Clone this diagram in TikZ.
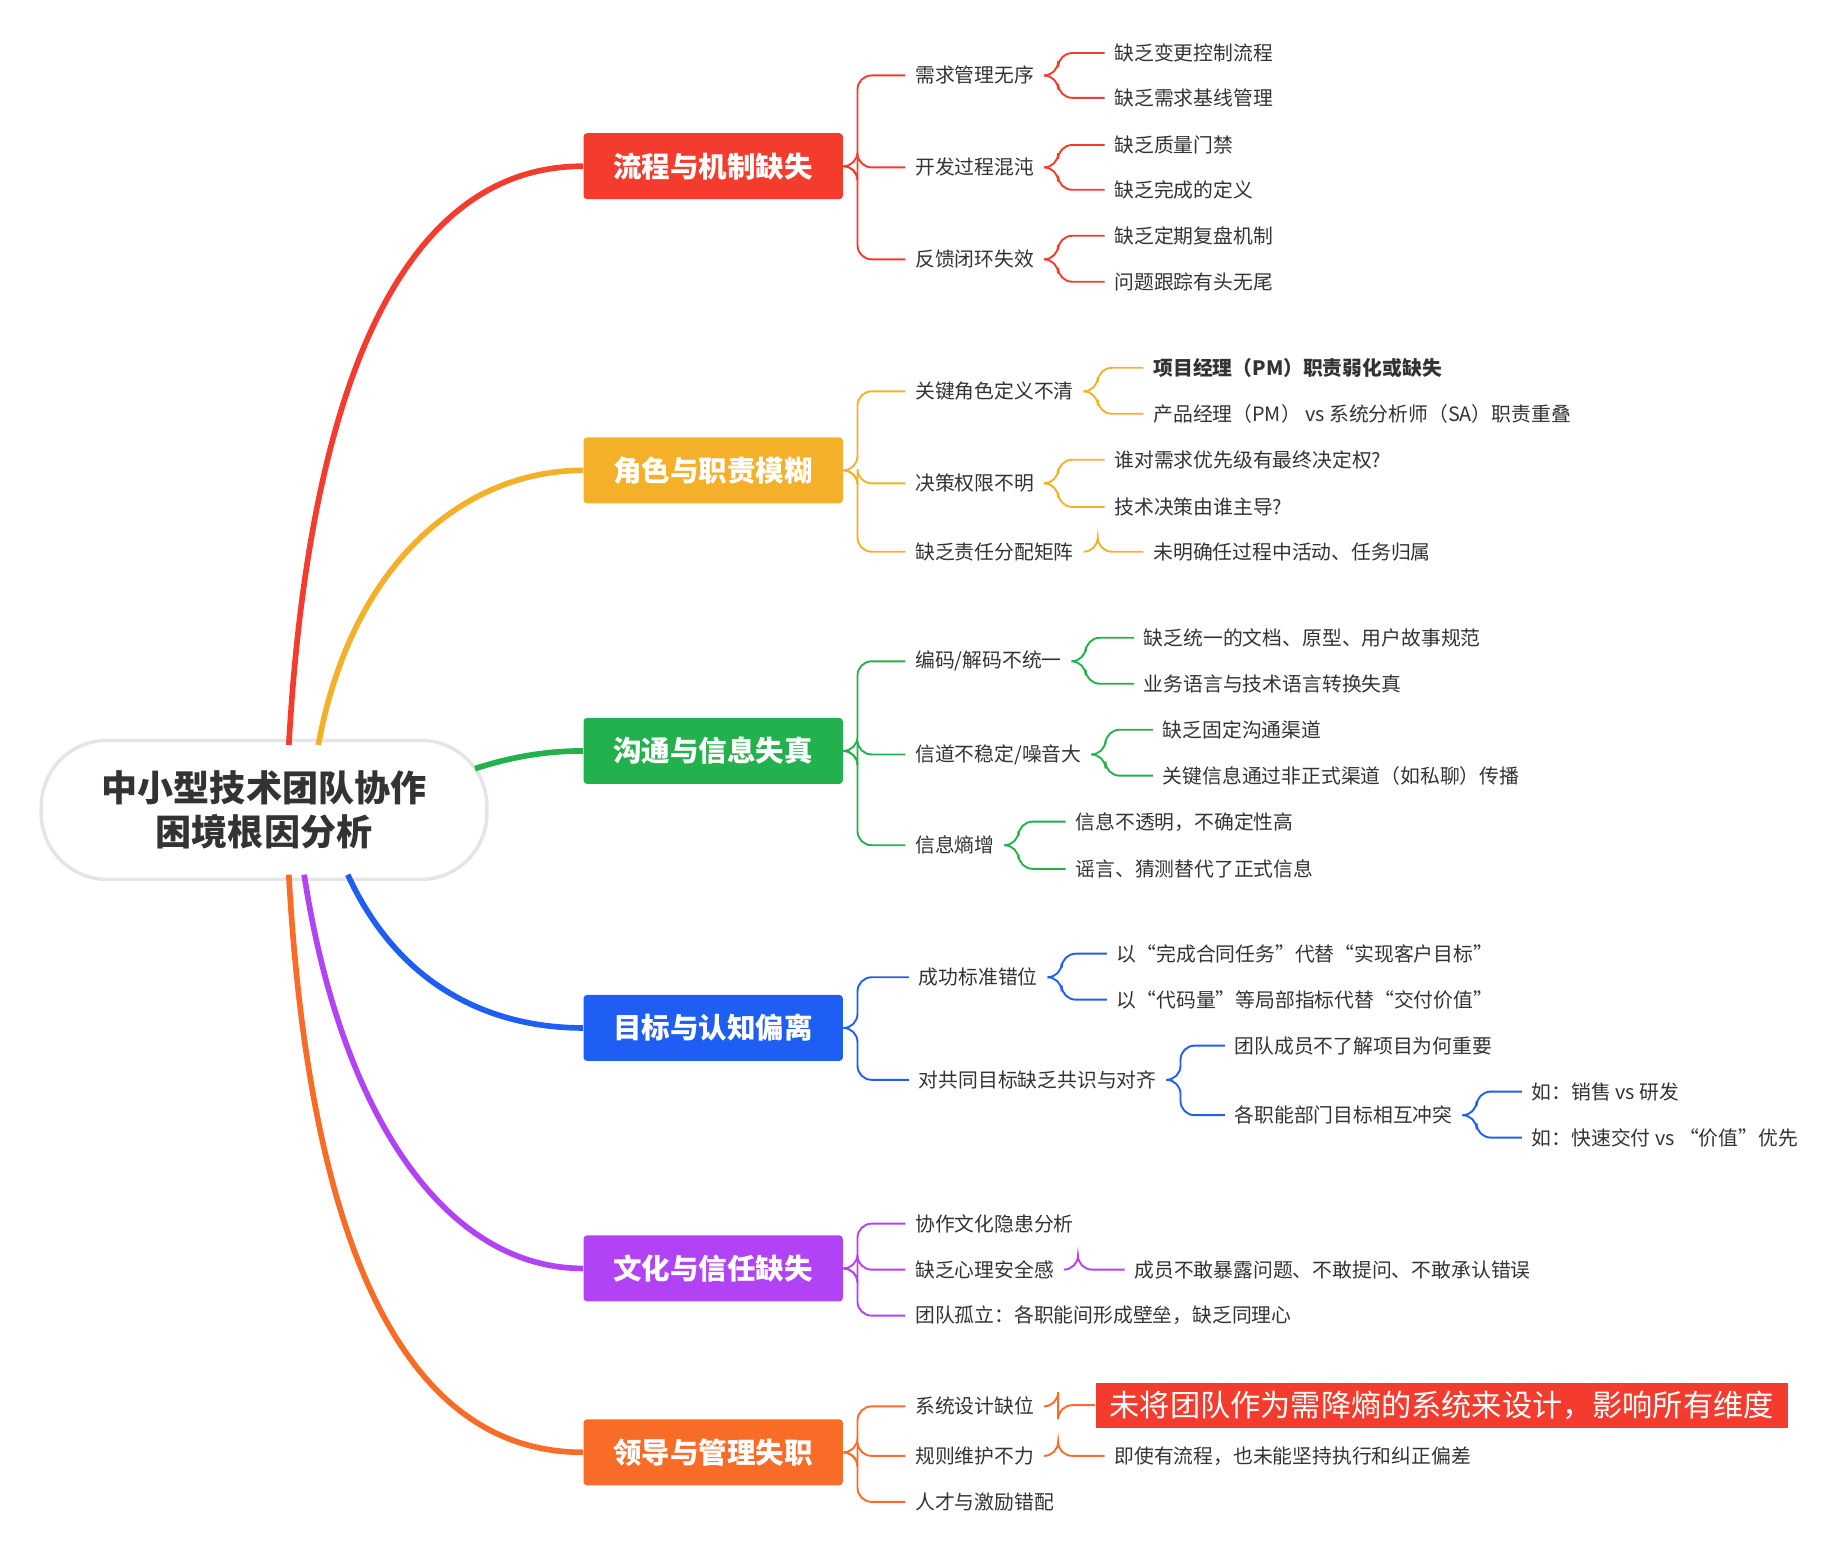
\documentclass[tikz,border=0pt]{standalone}
\usepackage{fontspec}
\setmainfont{Noto Sans CJK SC}
\usetikzlibrary{positioning,calc}
\definecolor{cA}{HTML}{F33B2E}
\definecolor{cB}{HTML}{F5B02A}
\definecolor{cC}{HTML}{22B14C}
\definecolor{cD}{HTML}{1F5EF2}
\definecolor{cE}{HTML}{B143F5}
\definecolor{cF}{HTML}{F96C28}
\definecolor{txt}{HTML}{333333}
\tikzset{
  rootbox/.style={draw=black!10, line width=1.5pt, fill=white, rounded corners=28pt, minimum width=189pt, minimum height=59pt, align=center, font=\fontsize{15.3}{19}\selectfont\bfseries, text=txt},
  mainbox/.style={fill=#1, rounded corners=1.5pt, minimum width=110pt, minimum height=28pt, text=white, font=\fontsize{12.1}{14}\selectfont\bfseries},
  sub/.style={anchor=west, inner sep=4pt, text=txt, font=\fontsize{8.4}{10}\selectfont},
  trunk/.style={line width=2.4pt, #1},
  twig/.style={line width=0.8pt, rounded corners=6pt, #1}
}
% bracket from a node to a child
\newcommand{\br}[3]{\draw[twig=#3] (#1.east) -- ++(12,0) |- (#2.west);}
\begin{document}
\begin{tikzpicture}[x=0.5pt, y=-0.5pt]
  \useasboundingbox (0,0) rectangle (1560,1310);

  \node[rootbox] (root) at (224,687) {中小型技术团队协作\\困境根因分析};

  \node[mainbox=cA] (m1) at (605,141) {流程与机制缺失};
  \node[mainbox=cB] (m2) at (605,399) {角色与职责模糊};
  \node[mainbox=cC] (m3) at (605,637) {沟通与信息失真};
  \node[mainbox=cD] (m4) at (605,872) {目标与认知偏离};
  \node[mainbox=cE] (m5) at (605,1076) {文化与信任缺失};
  \node[mainbox=cF] (m6) at (605,1232) {领导与管理失职};

  \draw[trunk=cA] (245,632) .. controls (262,330) and (340,141) .. (m1.west);
  \draw[trunk=cB] (270,632) .. controls (300,470) and (400,399) .. (m2.west);
  \draw[trunk=cC] (403,652) .. controls (440,640) and (470,637) .. (m3.west);
  \draw[trunk=cD] (295,742) .. controls (340,840) and (420,872) .. (m4.west);
  \draw[trunk=cE] (258,742) .. controls (290,950) and (380,1076) .. (m5.west);
  \draw[trunk=cF] (245,742) .. controls (262,1050) and (340,1232) .. (m6.west);

  % process
  \node[sub] (a1) at (768,64) {需求管理无序};
  \node[sub] (a2) at (768,142) {开发过程混沌};
  \node[sub] (a3) at (768,220) {反馈闭环失效};
  \node[sub] (a11) at (937,45) {缺乏变更控制流程};
  \node[sub] (a12) at (937,83) {缺乏需求基线管理};
  \node[sub] (a21) at (937,123) {缺乏质量门禁};
  \node[sub] (a22) at (937,161) {缺乏完成的定义};
  \node[sub] (a31) at (937,200) {缺乏定期复盘机制};
  \node[sub] (a32) at (937,239) {问题跟踪有头无尾};
  \br{m1}{a1}{cA} \br{m1}{a2}{cA} \br{m1}{a3}{cA}
  \br{a1}{a11}{cA} \br{a1}{a12}{cA} \br{a2}{a21}{cA}
  \br{a2}{a22}{cA} \br{a3}{a31}{cA} \br{a3}{a32}{cA}

  % roles
  \node[sub] (b1) at (768,332) {关键角色定义不清};
  \node[sub] (b2) at (768,410) {决策权限不明};
  \node[sub] (b3) at (768,468) {缺乏责任分配矩阵};
  \node[sub, font=\fontsize{8.4}{10}\selectfont\bfseries] (b11) at (970,312) {项目经理（PM）职责弱化或缺失};
  \node[sub] (b12) at (970,351) {产品经理（PM） vs 系统分析师（SA）职责重叠};
  \node[sub] (b21) at (937,390) {谁对需求优先级有最终决定权?};
  \node[sub] (b22) at (937,430) {技术决策由谁主导?};
  \node[sub] (b31) at (970,468) {未明确任过程中活动、任务归属};
  \br{m2}{b1}{cB} \br{m2}{b2}{cB} \br{m2}{b3}{cB}
  \br{b1}{b11}{cB} \br{b1}{b12}{cB} \br{b2}{b21}{cB}
  \br{b2}{b22}{cB} \br{b3}{b31}{cB}

  % communication
  \node[sub] (c1) at (768,561) {编码/解码不统一};
  \node[sub] (c2) at (768,640) {信道不稳定/噪音大};
  \node[sub] (c3) at (768,717) {信息熵增};
  \node[sub] (c11) at (962,541) {缺乏统一的文档、原型、用户故事规范};
  \node[sub] (c12) at (962,580) {业务语言与技术语言转换失真};
  \node[sub] (c21) at (978,619) {缺乏固定沟通渠道};
  \node[sub] (c22) at (978,658) {关键信息通过非正式渠道（如私聊）传播};
  \node[sub] (c31) at (904,697) {信息不透明，不确定性高};
  \node[sub] (c32) at (904,737) {谣言、猜测替代了正式信息};
  \br{m3}{c1}{cC} \br{m3}{c2}{cC} \br{m3}{c3}{cC}
  \br{c1}{c11}{cC} \br{c1}{c12}{cC} \br{c2}{c21}{cC}
  \br{c2}{c22}{cC} \br{c3}{c31}{cC} \br{c3}{c32}{cC}

  % goals
  \node[sub] (d1) at (771,829) {成功标准错位};
  \node[sub] (d2) at (771,916) {对共同目标缺乏共识与对齐};
  \node[sub] (d11) at (939,809) {以“完成合同任务”代替“实现客户目标”};
  \node[sub] (d12) at (939,848) {以“代码量”等局部指标代替“交付价值”};
  \node[sub] (d21) at (1039,887) {团队成员不了解项目为何重要};
  \node[sub] (d22) at (1039,946) {各职能部门目标相互冲突};
  \node[sub] (d221) at (1291,926) {如：销售 vs 研发};
  \node[sub] (d222) at (1291,965) {如：快速交付 vs “价值”优先};
  \br{m4}{d1}{cD} \br{m4}{d2}{cD}
  \br{d1}{d11}{cD} \br{d1}{d12}{cD} \br{d2}{d21}{cD}
  \br{d2}{d22}{cD} \br{d22}{d221}{cD} \br{d22}{d222}{cD}

  % culture
  \node[sub] (e1) at (768,1038) {协作文化隐患分析};
  \node[sub] (e2) at (768,1077) {缺乏心理安全感};
  \node[sub] (e3) at (768,1116) {团队孤立：各职能间形成壁垒，缺乏同理心};
  \node[sub] (e21) at (954,1077) {成员不敢暴露问题、不敢提问、不敢承认错误};
  \br{m5}{e1}{cE} \br{m5}{e2}{cE} \br{m5}{e3}{cE}
  \br{e2}{e21}{cE}

  % leadership
  \node[sub] (f1) at (768,1193) {系统设计缺位};
  \node[sub] (f2) at (768,1235) {规则维护不力};
  \node[sub] (f3) at (768,1274) {人才与激励错配};
  \node[anchor=west, fill=cA, text=white, inner xsep=6pt, minimum height=19pt, minimum width=286pt, align=left, font=\fontsize{12.8}{15}\selectfont] (f11) at (929,1192) {未将团队作为需降熵的系统来设计，影响所有维度};
  \node[sub] (f21) at (937,1235) {即使有流程，也未能坚持执行和纠正偏差};
  \br{m6}{f1}{cF} \br{m6}{f2}{cF} \br{m6}{f3}{cF}
  \br{f1}{f11}{cF} \br{f2}{f21}{cF}
\end{tikzpicture}
\end{document}
